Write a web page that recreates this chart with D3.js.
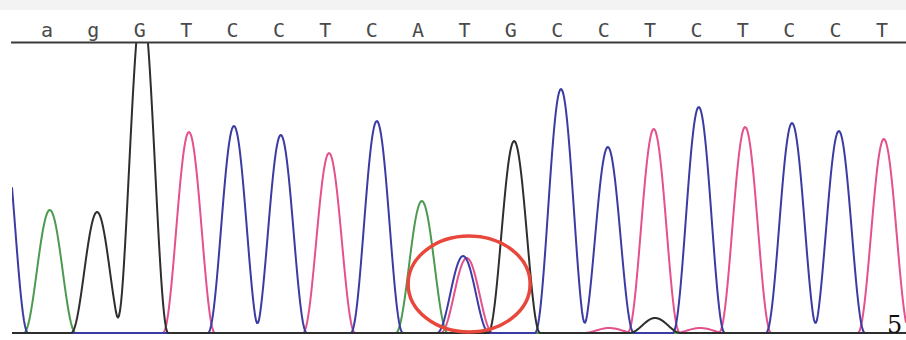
<!DOCTYPE html>
<html>
<head>
<meta charset="utf-8">
<script src="https://cdn.jsdelivr.net/npm/d3@7"></script>
<style>
  html, body { margin: 0; padding: 0; background: #fff; }
</style>
</head>
<body>
<div id="viz"></div>
<script>
// base calls shown along the top
const bases = ["a", "g", "G", "T", "C", "C", "T", "C", "A", "T", "G", "C", "C", "T", "C", "T", "C", "C", "T"];

// peak centres (in base positions) and peak heights for each dye channel
const posA = [0.06, 8.08, 19.0];
const heightA = [123, 132, 3];
const posC = [-0.97, 4.03, 5.04, 7.11, 8.97, 11.08, 12.09, 14.05, 16.06, 17.07];
const heightC = [215, 207, 198, 212, 77, 244, 186, 226, 210, 202];
const posG = [1.08, 2.05, 10.07, 13.11];
const heightG = [121, 330, 192, 15];
const posT = [3.06, 6.08, 9.05, 12.12, 13.08, 14.08, 15.05, 18.04];
const heightT = [201, 180, 75, 5, 204, 5, 206, 194];

const width = 906, height = 340;

const svg = d3.select("#viz")
    .append("svg")
    .attr("width", width)
    .attr("height", height);

// light grey strip on top
svg.append("rect")
    .attr("x", 0).attr("y", 0)
    .attr("width", width).attr("height", 10)
    .attr("fill", "#f3f3f3");

// x: base index -> pixel, y: signal -> pixel
const xScale = d3.scaleLinear()
    .domain([0, bases.length - 1])
    .range([47, 882]);

const yScale = d3.scaleLinear()
    .domain([0, 300])
    .range([333, 33]);

svg.append("clipPath")
    .attr("id", "plot-clip")
    .append("rect")
    .attr("x", 12).attr("y", 43)
    .attr("width", width - 12).attr("height", height - 43);

// each peak is a cos^2 bump about 26px wide on each side
const halfWidth = 26 / (xScale(1) - xScale(0));

function signal(x, pos, hts) {
    let v = 0;
    pos.forEach((p, i) => {
        const d = Math.abs(x - p);
        if (d < halfWidth) {
            const c = Math.cos(Math.PI * d / (2 * halfWidth));
            v += hts[i] * c * c;
        }
    });
    return v;
}

const samples = d3.range(12, width + 1, 1).map(px => xScale.invert(px));

const channels = [
    { pos: posT, hts: heightT, color: "#e4518c" },
    { pos: posA, hts: heightA, color: "#4b9a4f" },
    { pos: posC, hts: heightC, color: "#3b3ca3" },
    { pos: posG, hts: heightG, color: "#2e2e2e" }
];

const line = d3.line()
    .x(d => xScale(d))
    .curve(d3.curveLinear);

const traces = svg.append("g").attr("clip-path", "url(#plot-clip)");

channels.forEach(ch => {
    traces.append("path")
        .datum(samples)
        .attr("fill", "none")
        .attr("stroke", ch.color)
        .attr("stroke-width", 2)
        .attr("stroke-linejoin", "round")
        .attr("d", line.y(d => yScale(signal(d, ch.pos, ch.hts))));
});

// header line and base calls
svg.append("line")
    .attr("x1", 11).attr("x2", width)
    .attr("y1", 42.5).attr("y2", 42.5)
    .attr("stroke", "#3a3a3a")
    .attr("stroke-width", 2);

svg.append("g")
    .selectAll("text")
    .data(bases)
    .join("text")
    .attr("x", (d, i) => xScale(i))
    .attr("y", 37)
    .attr("text-anchor", "middle")
    .attr("font-family", "DejaVu Sans Mono, monospace")
    .attr("font-size", 20)
    .attr("fill", "#4a4a4a")
    .text(d => d);

// red circle marking the mixed peak
svg.append("ellipse")
    .attr("cx", xScale(9.1))
    .attr("cy", 284)
    .attr("rx", 61)
    .attr("ry", 48)
    .attr("fill", "none")
    .attr("stroke", "#e8473c")
    .attr("stroke-width", 3.5);

svg.append("text")
    .attr("x", 887)
    .attr("y", 333)
    .attr("font-family", "DejaVu Serif, serif")
    .attr("font-size", 24)
    .attr("fill", "#111")
    .text("5");
</script>
</body>
</html>
